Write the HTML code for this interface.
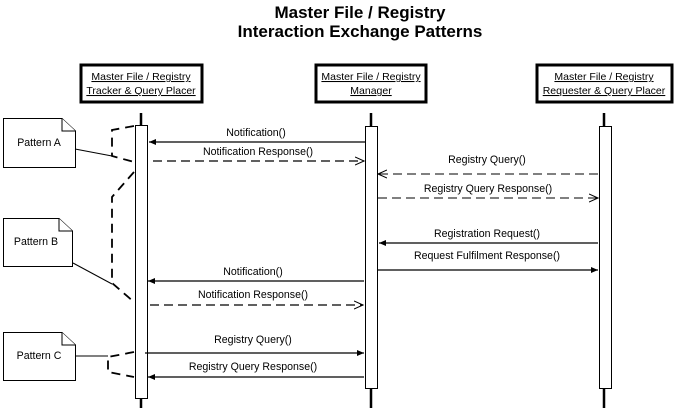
<!DOCTYPE html>
<html><head><meta charset="utf-8"><style>body{margin:0;background:#fff}</style></head><body>
<svg width="674" height="409" xmlns="http://www.w3.org/2000/svg" font-family="Liberation Sans, Arial, sans-serif">
<defs>
<marker id="f" markerWidth="8" markerHeight="8" refX="7" refY="4" orient="auto" markerUnits="userSpaceOnUse"><path d="M0,1 L7,4 L0,7 Z" fill="#000"/></marker>
<marker id="o" markerWidth="10" markerHeight="10" refX="9" refY="5" orient="auto" markerUnits="userSpaceOnUse"><path d="M0,1 L9,5 L0,9" fill="none" stroke="#000" stroke-width="1"/></marker>
</defs>
<text x="360" y="18" font-size="17" font-weight="bold" text-anchor="middle">Master File / Registry</text>
<text x="360" y="37" font-size="17" font-weight="bold" text-anchor="middle">Interaction Exchange Patterns</text>
<g fill="#fff" stroke="#000" stroke-width="3">
<rect x="81" y="65" width="121" height="37"/>
<rect x="316" y="65" width="110" height="37"/>
<rect x="537" y="65" width="135" height="37"/>
</g>
<g font-size="10.5" text-anchor="middle" text-decoration="underline">
<text x="141" y="80">Master File / Registry</text><text x="141" y="94">Tracker &amp; Query Placer</text>
<text x="371" y="80">Master File / Registry</text><text x="371" y="94">Manager</text>
<text x="604" y="80">Master File / Registry</text><text x="604" y="94">Requester &amp; Query Placer</text>
</g>
<g stroke="#000" stroke-width="2.5">
<line x1="141" y1="113" x2="141" y2="408"/><line x1="371" y1="113" x2="371" y2="408"/><line x1="604" y1="113" x2="604" y2="408"/>
</g>
<g fill="#fff" stroke="#000" stroke-width="1">
<rect x="135.5" y="125.5" width="12" height="273"/>
<rect x="365.5" y="126.5" width="12" height="262"/>
<rect x="599.5" y="126.5" width="12" height="262"/>
</g>
<g stroke="#000" stroke-width="1.2" fill="none">
<line x1="365" y1="142" x2="149" y2="142" marker-end="url(#f)"/>
<line x1="153" y1="161" x2="364" y2="161" stroke-dasharray="9,5" marker-end="url(#o)"/>
<line x1="598" y1="174" x2="378" y2="174" stroke-dasharray="9,5" stroke-width="1" marker-end="url(#o)"/>
<line x1="378" y1="198" x2="598" y2="198" stroke-dasharray="9,5" stroke-width="1" marker-end="url(#o)"/>
<line x1="598" y1="243" x2="379" y2="243" marker-end="url(#f)"/>
<line x1="378" y1="270" x2="598" y2="270" marker-end="url(#f)"/>
<line x1="364" y1="281" x2="148" y2="281" marker-end="url(#f)"/>
<line x1="150" y1="305" x2="363" y2="305" stroke-dasharray="9,5" marker-end="url(#o)"/>
<line x1="145" y1="353" x2="364" y2="353" marker-end="url(#f)"/>
<line x1="364" y1="377" x2="148" y2="377" marker-end="url(#f)"/>
</g>
<g font-size="10.6" text-anchor="middle">
<text x="256" y="136">Notification()</text>
<text x="258" y="155">Notification Response()</text>
<text x="487" y="163">Registry Query()</text>
<text x="488" y="192">Registry Query Response()</text>
<text x="487" y="237">Registration Request()</text>
<text x="487" y="259">Request Fulfilment Response()</text>
<text x="253" y="275">Notification()</text>
<text x="253" y="298">Notification Response()</text>
<text x="253" y="343">Registry Query()</text>
<text x="253" y="370">Registry Query Response()</text>
</g>
<g fill="#fff" stroke="#000" stroke-width="1">
<path d="M3.5,118.5 H62 L75.5,131 V167.5 H3.5 Z"/><path d="M62,118.5 V131 H75.5"/>
<path d="M3.5,218.5 H59 L72.5,231 V266.5 H3.5 Z"/><path d="M59,218.5 V231 H72.5"/>
<path d="M3.5,332.5 H62 L75.5,345 V380.5 H3.5 Z"/><path d="M62,332.5 V345 H75.5"/>
</g>
<g font-size="10.6" text-anchor="middle">
<text x="39" y="146">Pattern A</text>
<text x="36" y="245">Pattern B</text>
<text x="39" y="359">Pattern C</text>
</g>
<g stroke="#000" stroke-width="1" fill="none">
<line x1="75" y1="149" x2="112" y2="156"/>
<line x1="73" y1="263" x2="112" y2="284"/>
<line x1="75" y1="356" x2="108" y2="356"/>
</g>
<g stroke="#000" stroke-width="1.8" fill="none" stroke-dasharray="9,6">
<path d="M134,126 L112,130 L112,156 L134,162"/>
<path d="M134,172 L112,197 L112,283 L134,302"/>
<path d="M134,352 L108,357 L108,372 L134,377"/>
</g>
</svg>
</body></html>
